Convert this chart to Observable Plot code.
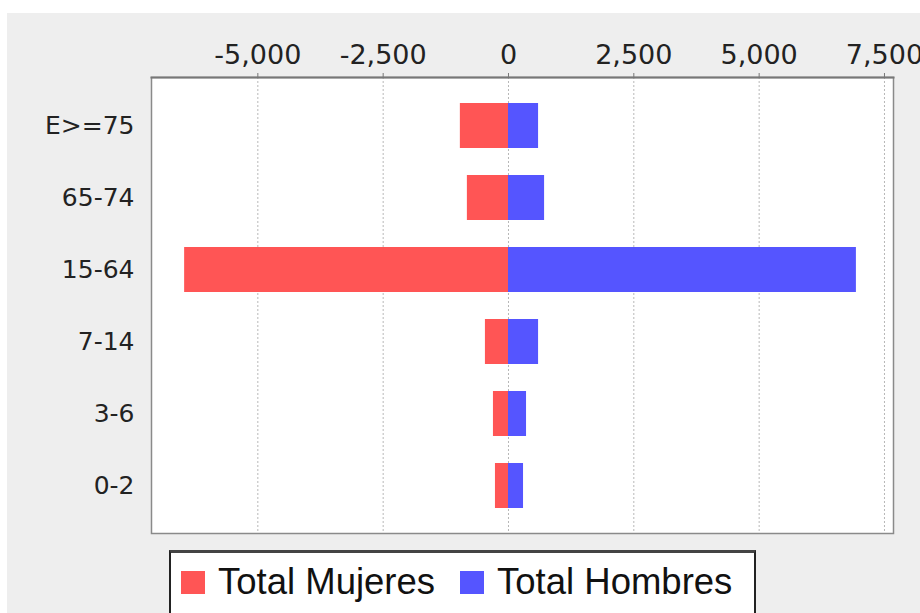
<!DOCTYPE html>
<html>
<head>
<meta charset="utf-8">
<script src="https://cdn.jsdelivr.net/npm/d3@7"></script>
<script src="https://cdn.jsdelivr.net/npm/@observablehq/plot@0.6"></script>
<style>
  html, body { margin: 0; padding: 0; background: #ffffff; width: 920px; height: 613px; overflow: hidden; }
  #bg { position: absolute; left: 7px; top: 13px; width: 913px; height: 600px; background: #eeeeee; overflow: hidden; }
  #chart { position: absolute; left: 0; top: 0; }
  #legend {
    position: absolute; left: 162px; top: 537px; width: 573px; height: 100px;
    background: #ffffff; border: 2px solid #222; border-top: 3px solid #444;
    box-sizing: content-box; padding: 11px 0 0 10px;
    font-family: "Liberation Sans", Arial, sans-serif; font-size: 36.5px; line-height: 1; color: #111;
  }
  #legend .row { display: flex; align-items: center; height: 36.5px; }
  #legend .item { display: flex; align-items: center; }
  #legend .item + .item { margin-left: 25px; }
  #legend .sw { width: 24px; height: 23px; margin-right: 13px; }
</style>
</head>
<body>
<div id="bg">
  <div id="chart"></div>
  <div id="legend"><div class="row" id="legendRow"></div></div>
</div>
<script>
const ageGroups = ["E>=75", "65-74", "15-64", "7-14", "3-6", "0-2"];
const seriesNames = ["Total Mujeres", "Total Hombres"];
const seriesColors = ["#ff5555", "#5555ff"];
const mujeres = [-960, -820, -6460, -460, -300, -260];
const hombres = [600, 720, 6940, 600, 360, 300];
const xTicks = [-5000, -2500, 0, 2500, 5000, 7500];
const xDomain = [-7121, 7680];

const data = [];
ageGroups.forEach((g, i) => {
  data.push({age: g, sex: seriesNames[0], value: mujeres[i]});
  data.push({age: g, sex: seriesNames[1], value: hombres[i]});
});

const fmt = d => d.toLocaleString("en-US");

const chart = Plot.plot({
  width: 913,
  height: 535,
  marginLeft: 144,
  marginRight: 27,
  marginTop: 64,
  marginBottom: 15,
  style: { background: "transparent", fontFamily: "DejaVu Sans", color: "#333" },
  x: { domain: xDomain, ticks: xTicks, tickFormat: fmt, label: null },
  y: { domain: ageGroups, paddingInner: 0.377, paddingOuter: 0.346, label: null },
  color: { domain: seriesNames, range: seriesColors },
  marks: [
    Plot.frame({ fill: "white", stroke: null }),
    Plot.gridX(xTicks, { stroke: "#b8b8b8", strokeOpacity: 1, strokeDasharray: "2,2" }),
    Plot.barX(data, { x: "value", y: "age", fill: "sex" }),
    Plot.frame({ stroke: "#8a8a8a", strokeWidth: 1.5 }),
    Plot.frame({ anchor: "top", stroke: "#777", strokeWidth: 2 }),
    Plot.axisX(xTicks, { anchor: "top", tickSize: 5, tickPadding: 9, fontSize: 27, tickFormat: fmt, stroke: "#777", fill: "#222" }),
    Plot.axisY({ anchor: "left", tickSize: 0, tickPadding: 17, fontSize: 25, fill: "#222" })
  ]
});
document.getElementById("chart").appendChild(chart);

const legendRow = document.getElementById("legendRow");
seriesNames.forEach((name, i) => {
  const item = document.createElement("div");
  item.className = "item";
  const sw = document.createElement("span");
  sw.className = "sw";
  sw.style.background = seriesColors[i];
  const label = document.createElement("span");
  label.textContent = name;
  item.appendChild(sw);
  item.appendChild(label);
  legendRow.appendChild(item);
});
</script>
</body>
</html>
